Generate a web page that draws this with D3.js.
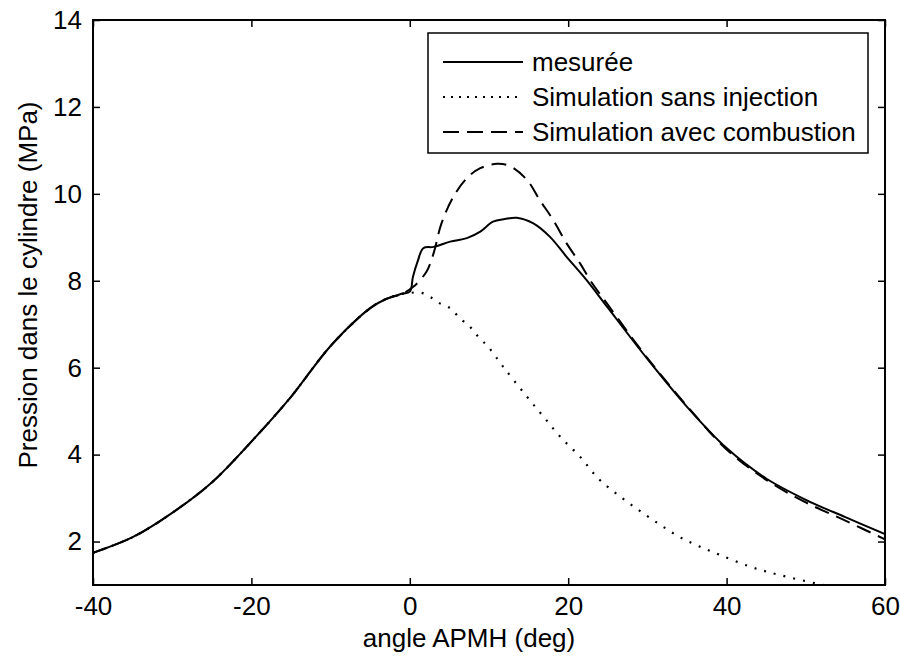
<!DOCTYPE html>
<html>
<head>
<meta charset="utf-8">
<script src="https://cdn.jsdelivr.net/npm/d3@7"></script>
<style>
  body { margin: 0; background: #fff; }
  svg text { font-family: "Liberation Sans", Arial, sans-serif; fill: #000; }
</style>
</head>
<body>
<svg id="chart" width="900" height="658"></svg>
<script>
// data
const measAngle = [-40, -35, -30, -25, -20, -15, -10, -5, -3, -1, 0, 0.4, 1, 1.7, 3, 5.1, 7.2, 8.9, 10.5, 12, 13.5, 15.6, 17.7, 19.8, 22.3, 25, 30, 35, 40, 45, 50, 55, 60];
const measP = [1.74, 2.10, 2.66, 3.36, 4.30, 5.33, 6.50, 7.37, 7.58, 7.70, 7.75, 8.09, 8.45, 8.75, 8.78, 8.90, 8.98, 9.13, 9.36, 9.42, 9.45, 9.32, 9.01, 8.55, 8.02, 7.38, 6.20, 5.10, 4.15, 3.45, 2.96, 2.56, 2.17];

const combAngle = [-40, -35, -30, -25, -20, -15, -10, -5, -3, -1, 0.44, 2.1, 3, 4, 5.5, 7.2, 8.9, 11, 12.6, 14.8, 16.4, 18.1, 19.8, 21.5, 22.75, 25, 30, 35, 40, 45, 50, 55, 60];
const combP = [1.74, 2.10, 2.66, 3.36, 4.30, 5.33, 6.50, 7.37, 7.58, 7.70, 7.86, 8.21, 8.63, 9.32, 9.93, 10.36, 10.59, 10.69, 10.64, 10.32, 9.86, 9.40, 8.86, 8.40, 8.02, 7.45, 6.22, 5.12, 4.12, 3.42, 2.90, 2.48, 2.05];

const sansAngle = [-40, -35, -30, -25, -20, -15, -10, -5, -3, -1, 0, 1.3, 2.55, 3.8, 5.1, 6.3, 7.6, 8.65, 9.9, 11.8, 14.8, 16.9, 19, 21.5, 23.8, 26.3, 28.85, 31.5, 34, 36.4, 39.2, 43, 46.7, 51.7, 55, 60];
const sansP = [1.74, 2.10, 2.66, 3.36, 4.30, 5.33, 6.50, 7.37, 7.58, 7.70, 7.72, 7.73, 7.63, 7.48, 7.37, 7.14, 6.94, 6.71, 6.48, 6.02, 5.33, 4.87, 4.41, 3.95, 3.45, 3.07, 2.73, 2.40, 2.11, 1.90, 1.69, 1.42, 1.23, 1.02, 0.90, 0.75];

const xTicks = [-40, -20, 0, 20, 40, 60];
const yTicks = [2, 4, 6, 8, 10, 12, 14];
const legendNames = ['mesurée', 'Simulation sans injection', 'Simulation avec combustion'];

const margin = {left: 93, top: 20, right: 15, bottom: 73};
const W = 900 - margin.left - margin.right,
      H = 658 - margin.top - margin.bottom;

const svg = d3.select('#chart');
const g = svg.append('g').attr('transform', 'translate(' + margin.left + ',' + margin.top + ')');

const x = d3.scaleLinear().domain([-40, 60]).range([0, W]);
const y = d3.scaleLinear().domain([1, 14]).range([H, 0]);

svg.append('defs').append('clipPath').attr('id', 'plotclip')
  .append('rect').attr('width', W).attr('height', H);

// axes, ticks inward like matlab
const fontSize = '26px';
const plain = d => String(d);
g.append('g').attr('transform', 'translate(0,' + H + ')')
  .call(d3.axisBottom(x).tickValues(xTicks).tickFormat(plain).tickSize(-7).tickSizeOuter(0).tickPadding(12));
g.append('g')
  .call(d3.axisLeft(y).tickValues(yTicks).tickFormat(plain).tickSize(-7).tickSizeOuter(0).tickPadding(11));
g.append('g')
  .call(d3.axisTop(x).tickValues(xTicks).tickSize(-7).tickSizeOuter(0).tickFormat(''));
g.append('g').attr('transform', 'translate(' + W + ',0)')
  .call(d3.axisRight(y).tickValues(yTicks).tickSize(-7).tickSizeOuter(0).tickFormat(''));

g.selectAll('.domain').remove();
g.selectAll('.tick line').attr('stroke', '#000').attr('stroke-width', 1.5);
g.selectAll('.tick text').style('font-size', fontSize).attr('font-family', null);

g.append('rect')
  .attr('width', W).attr('height', H)
  .attr('fill', 'none').attr('stroke', '#000').attr('stroke-width', 2);

// curves
const line = d3.line().x(d => x(d[0])).y(d => y(d[1])).curve(d3.curveCatmullRom.alpha(0.5));
const curves = g.append('g').attr('clip-path', 'url(#plotclip)');

curves.append('path')
  .datum(d3.zip(sansAngle, sansP))
  .attr('d', line).attr('fill', 'none').attr('stroke', '#000')
  .attr('stroke-width', 2.2).attr('stroke-dasharray', '2 8');

curves.append('path')
  .datum(d3.zip(combAngle, combP))
  .attr('d', line).attr('fill', 'none').attr('stroke', '#000')
  .attr('stroke-width', 2).attr('stroke-dasharray', '15 8');

curves.append('path')
  .datum(d3.zip(measAngle, measP))
  .attr('d', line).attr('fill', 'none').attr('stroke', '#000')
  .attr('stroke-width', 2);

// axis labels
svg.append('text')
  .attr('x', margin.left + W / 2 - 20).attr('y', 647)
  .attr('text-anchor', 'middle').style('font-size', fontSize)
  .text('angle APMH (deg)');

svg.append('text')
  .attr('transform', 'translate(37,285) rotate(-90)')
  .attr('text-anchor', 'middle').style('font-size', fontSize)
  .text('Pression dans le cylindre (MPa)');

// legend
const leg = svg.append('g').attr('transform', 'translate(428,33)');
leg.append('rect').attr('width', 440).attr('height', 120)
  .attr('fill', '#fff').attr('stroke', '#000').attr('stroke-width', 1.5);
const dashes = [null, '2 6', '16 8'];
legendNames.forEach(function (name, i) {
  const yy = 29 + i * 35;
  leg.append('line').attr('x1', 15).attr('x2', 95).attr('y1', yy).attr('y2', yy)
    .attr('stroke', '#000').attr('stroke-width', 2)
    .attr('stroke-dasharray', dashes[i]);
  leg.append('text').attr('x', 104).attr('y', yy).attr('dy', '0.36em')
    .style('font-size', fontSize).text(name);
});
</script>
</body>
</html>
